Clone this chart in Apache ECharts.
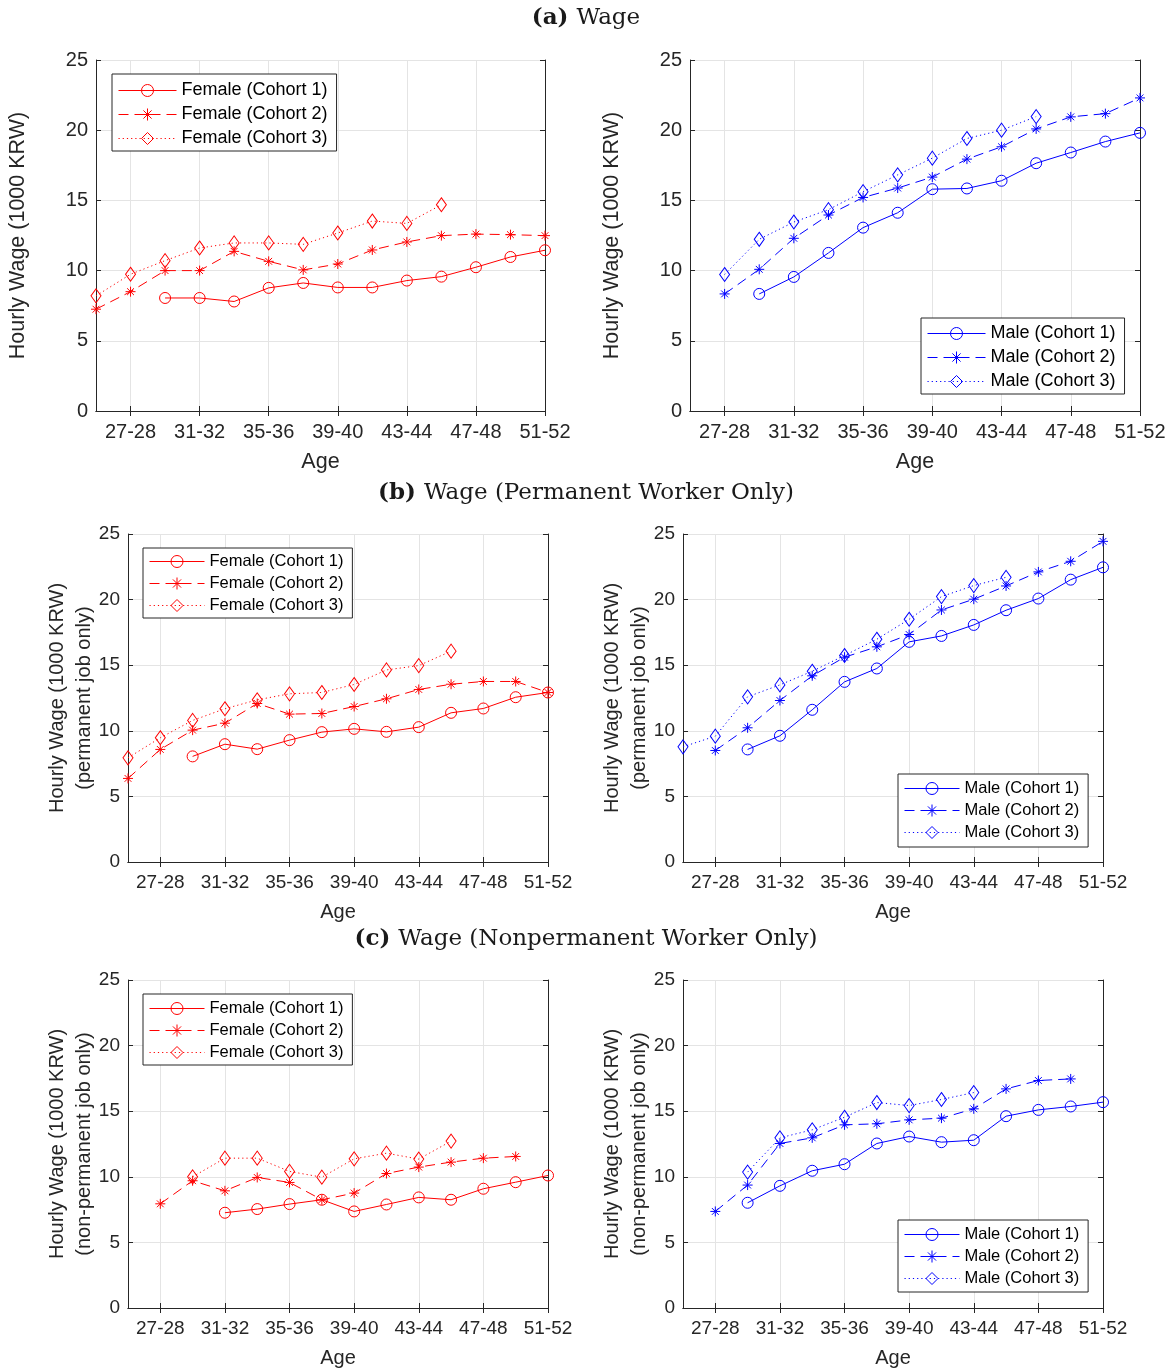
<!DOCTYPE html>
<html><head><meta charset="utf-8">
<script src="https://cdn.jsdelivr.net/npm/echarts@6.0.0/dist/echarts.min.js"></script>
<style>html,body{margin:0;padding:0;background:#fff}#c{width:1172px;height:1369px}</style>
</head><body><div id="c"></div>
<script>
// ---------- DATA ----------
const ageGroups = ['25-26','27-28','29-30','31-32','33-34','35-36','37-38','39-40','41-42','43-44','45-46','47-48','49-50','51-52'];
const shownTicks = ['27-28','31-32','35-36','39-40','43-44','47-48','51-52'];
const yMin = 0, yMax = 25, yStep = 5;

const femaleNames = ['Female (Cohort 1)','Female (Cohort 2)','Female (Cohort 3)'];
const maleNames = ['Male (Cohort 1)','Male (Cohort 2)','Male (Cohort 3)'];

// (a) Wage
const aF1 = [null, null, 8.05, 8.05, 7.8, 8.77, 9.12, 8.8, 8.8, 9.29, 9.57, 10.24, 10.97, 11.45];
const aF2 = [7.25, 8.5, 10.0, 10.0, 11.37, 10.66, 10.05, 10.47, 11.47, 12.04, 12.49, 12.6, 12.56, 12.49];
const aF3 = [8.2, 9.74, 10.71, 11.61, 11.97, 11.97, 11.87, 12.68, 13.53, 13.36, 14.69, null, null, null];
const aM1 = [null, null, 8.34, 9.55, 11.26, 13.06, 14.12, 15.8, 15.85, 16.4, 17.65, 18.41, 19.19, 19.81];
const aM2 = [null, 8.34, 10.09, 12.3, 13.96, 15.21, 15.88, 16.66, 17.94, 18.82, 20.09, 20.95, 21.18, 22.3];
const aM3 = [null, 9.72, 12.23, 13.46, 14.34, 15.62, 16.82, 18.01, 19.41, 20.0, 20.97, null, null, null];

// (b) Wage (Permanent Worker Only)
const bF1 = [null, null, 8.05, 8.98, 8.6, 9.29, 9.9, 10.15, 9.92, 10.28, 11.37, 11.7, 12.56, 12.92];
const bF2 = [6.37, 8.58, 10.05, 10.58, 12.08, 11.27, 11.32, 11.85, 12.44, 13.15, 13.55, 13.76, 13.76, 12.92];
const bF3 = [7.94, 9.47, 10.79, 11.68, 12.36, 12.82, 12.92, 13.53, 14.64, 14.97, 16.07, null, null, null];
const bM1 = [null, null, 8.58, 9.62, 11.6, 13.73, 14.75, 16.78, 17.23, 18.07, 19.19, 20.08, 21.52, 22.46];
const bM2 = [null, 8.5, 10.23, 12.31, 14.19, 15.61, 16.4, 17.34, 19.21, 20.03, 21.04, 22.11, 22.92, 24.44];
const bM3 = [8.78, 9.59, 12.59, 13.5, 14.54, 15.74, 16.98, 18.5, 20.23, 21.07, 21.7, null, null, null];

// (c) Wage (Nonpermanent Worker Only)
const cF1 = [null, null, null, 7.26, 7.54, 7.92, 8.25, 7.36, 7.89, 8.43, 8.25, 9.09, 9.59, 10.1];
const cF2 = [null, 7.94, 9.7, 8.93, 9.95, 9.57, 8.25, 8.76, 10.25, 10.74, 11.12, 11.42, 11.55, null];
const cF3 = [null, null, 10.0, 11.42, 11.42, 10.41, 9.97, 11.37, 11.8, 11.35, 12.72, null, null, null];
const cM1 = [null, null, 8.02, 9.31, 10.46, 10.96, 12.54, 13.07, 12.64, 12.79, 14.62, 15.1, 15.36, 15.69];
const cM2 = [null, 7.36, 9.37, 12.54, 12.97, 13.96, 14.04, 14.34, 14.47, 15.18, 16.7, 17.34, 17.46, null];
const cM3 = [null, null, 10.36, 12.97, 13.58, 14.54, 15.66, 15.43, 15.89, 16.42, null, null, null, null];

const titles = [
  {bold: '(a)', rest: 'Wage'},
  {bold: '(b)', rest: 'Wage (Permanent Worker Only)'},
  {bold: '(c)', rest: 'Wage (Nonpermanent Worker Only)'}
];
const yNameMain = 'Hourly Wage (1000 KRW)';
const yNameSub = ['', '(permanent job only)', '(non-permanent job only)'];

// ---------- STYLE / LAYOUT ----------
const SANS = '"Liberation Sans", Arial, Helvetica, sans-serif';
const SERIF = '"DejaVu Serif", "Liberation Serif", serif';
const AX = '#262626';
const GRIDC = '#e4e4e4';
const RED = '#ff0000', BLUE = '#0000ff';
const ASTER = 'path://M5,0L5,10M0,5L10,5M1.6,1.6L8.4,8.4M1.6,8.4L8.4,1.6';
const styles = [
  {symbol: 'circle', size: 11, type: 'solid'},
  {symbol: ASTER, size: 10, type: [10, 6]},
  {symbol: 'diamond', size: [10, 14], type: [1.2, 3]}
];

const rowFont = [
  {tick: 20, name: 21.5, nameLH: 24, legend: 18, legendLH: 18, legendGap: 6, itemW: 58, itemH: 15, yGap: 65.5, xGap: 39},
  {tick: 19, name: 20, nameLH: 27.5, legend: 16.5, legendLH: 17, legendGap: 5, itemW: 55, itemH: 15, yGap: 29.5, xGap: 37},
  {tick: 19, name: 20, nameLH: 27.5, legend: 16.5, legendLH: 17, legendGap: 5, itemW: 55, itemH: 15, yGap: 29.5, xGap: 37}
];

const panels = [
  {row: 0, grid: {left: 96, top: 60, width: 449, height: 351}, color: RED, names: femaleNames, data: [aF1, aF2, aF3], legend: {left: 112, top: 74}, pad: [7.5, 9, 3.5, 6]},
  {row: 0, grid: {left: 690, top: 60, width: 450, height: 351}, color: BLUE, names: maleNames, data: [aM1, aM2, aM3], legend: {left: 921, top: 318}, pad: [6.5, 9, 3.5, 6]},
  {row: 1, grid: {left: 128, top: 534, width: 420, height: 328}, color: RED, names: femaleNames, data: [bF1, bF2, bF3], legend: {left: 143, top: 548}, pad: [5, 9, 4, 6]},
  {row: 1, grid: {left: 683, top: 534, width: 420, height: 328}, color: BLUE, names: maleNames, data: [bM1, bM2, bM3], legend: {left: 898, top: 774}, pad: [6, 9, 6, 6]},
  {row: 2, grid: {left: 128, top: 980, width: 420, height: 328}, color: RED, names: femaleNames, data: [cF1, cF2, cF3], legend: {left: 143, top: 994}, pad: [6, 9, 4, 6]},
  {row: 2, grid: {left: 683, top: 980, width: 420, height: 328}, color: BLUE, names: maleNames, data: [cM1, cM2, cM3], legend: {left: 898, top: 1220}, pad: [6, 9, 5, 6]}
];
const titleTops = [7, 482, 928];

const tickShown = (idx, val) => shownTicks.indexOf(val) >= 0 || shownTicks.indexOf(ageGroups[idx]) >= 0;
const SEP = '@@';

const option = {
  animation: false,
  backgroundColor: '#fff',
  title: [], grid: [], xAxis: [], yAxis: [], legend: [], series: []
};

titles.forEach((t, i) => {
  option.title.push({
    text: '{b|' + t.bold + '} {n|' + t.rest + '}',
    left: 'center', top: titleTops[i], padding: 0,
    textStyle: {
      fontFamily: SERIF, fontSize: 23, color: '#1a1a1a',
      rich: {
        b: {fontFamily: SERIF, fontSize: 23, fontWeight: 'bold', color: '#1a1a1a'},
        n: {fontFamily: SERIF, fontSize: 23, fontWeight: 'normal', color: '#1a1a1a'}
      }
    }
  });
});

panels.forEach((p, i) => {
  const f = rowFont[p.row];
  option.grid.push(Object.assign({show: false, outerBoundsMode: 'none'}, p.grid));
  const yName = yNameSub[p.row] ? yNameMain + '\n' + yNameSub[p.row] : yNameMain;
  option.xAxis.push({
    gridIndex: i, type: 'category', data: ageGroups, boundaryGap: false,
    name: 'Age', nameLocation: 'middle', nameGap: f.xGap, nameMoveOverlap: false,
    nameTextStyle: {fontFamily: SANS, fontSize: f.name, color: AX, lineHeight: f.nameLH},
    axisLine: {show: true, lineStyle: {color: AX, width: 1}},
    axisTick: {show: true, inside: true, length: 5, interval: tickShown, lineStyle: {color: AX, width: 1}},
    axisLabel: {show: true, interval: tickShown, margin: 11, fontFamily: SANS, fontSize: f.tick, color: AX, hideOverlap: false},
    splitLine: {show: true, interval: tickShown, lineStyle: {color: GRIDC, width: 1}}
  });
  option.xAxis.push({
    gridIndex: i, type: 'category', data: ageGroups, boundaryGap: false, position: 'top',
    axisLine: {show: true, lineStyle: {color: AX, width: 1}},
    axisTick: {show: true, inside: true, length: 5, interval: tickShown, lineStyle: {color: AX, width: 1}},
    axisLabel: {show: false}, splitLine: {show: false}
  });
  option.yAxis.push({
    gridIndex: i, type: 'value', min: yMin, max: yMax, interval: yStep,
    name: yName, nameLocation: 'middle', nameGap: f.yGap, nameMoveOverlap: false,
    nameTextStyle: {fontFamily: SANS, fontSize: f.name, color: AX, lineHeight: f.nameLH},
    axisLine: {show: true, lineStyle: {color: AX, width: 1}},
    axisTick: {show: true, inside: true, length: 5, lineStyle: {color: AX, width: 1}},
    axisLabel: {show: true, margin: 8, fontFamily: SANS, fontSize: f.tick, color: AX},
    splitLine: {show: true, lineStyle: {color: GRIDC, width: 1}}
  });
  option.yAxis.push({
    gridIndex: i, type: 'value', min: yMin, max: yMax, interval: yStep, position: 'right',
    axisLine: {show: true, lineStyle: {color: AX, width: 1}},
    axisTick: {show: true, inside: true, length: 5, lineStyle: {color: AX, width: 1}},
    axisLabel: {show: false}, splitLine: {show: false}
  });
  const ids = p.names.map(nm => 'p' + i + SEP + nm);
  option.legend.push({
    orient: 'vertical', left: p.legend.left, top: p.legend.top,
    data: ids, selectedMode: false,
    formatter: name => name.split(SEP)[1],
    padding: p.pad, itemWidth: f.itemW, itemHeight: f.itemH, itemGap: f.legendGap,
    borderColor: AX, borderWidth: 1, borderRadius: 0, backgroundColor: '#fff',
    itemStyle: {borderWidth: 1, borderColor: p.color, color: 'rgba(255,255,255,0)'},
    lineStyle: {width: 1, color: p.color},
    textStyle: {fontFamily: SANS, fontSize: f.legend, lineHeight: f.legendLH, color: '#000'}
  });
  p.names.forEach((nm, k) => {
    const s = styles[k];
    option.series.push({
      type: 'line', name: ids[k], data: p.data[k],
      xAxisIndex: 2 * i, yAxisIndex: 2 * i,
      symbol: s.symbol, symbolSize: s.size, showSymbol: true, connectNulls: false,
      silent: true, z: 3 + k,
      lineStyle: {color: p.color, width: 1, type: s.type},
      itemStyle: {color: 'rgba(255,255,255,0)', borderColor: p.color, borderWidth: 1},
      emphasis: {disabled: true}
    });
  });
});

const chart = echarts.init(document.getElementById('c'), null, {renderer: 'canvas', width: 1172, height: 1369});
chart.setOption(option);
</script>
</body></html>
